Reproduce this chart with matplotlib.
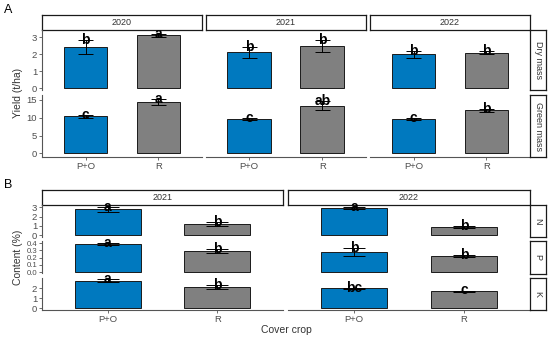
import numpy as np
import matplotlib
matplotlib.use('Agg')
import matplotlib.pyplot as plt

plt.rcParams['font.family'] = ['Liberation Sans', 'DejaVu Sans']

crops = ['P+O', 'R']
bar_colors = ['#0079BF', '#808080']

# panel A: yield
years_a = ['2020', '2021', '2022']
dry_mean = [[2.42, 3.12], [2.12, 2.49], [2.00, 2.10]]
dry_se = [[0.40, 0.08], [0.32, 0.35], [0.22, 0.10]]
dry_letters = [['b', 'a'], ['b', 'b'], ['b', 'b']]
green_mean = [[10.4, 14.4], [9.7, 13.4], [9.7, 12.1]]
green_se = [[0.4, 0.9], [0.3, 1.2], [0.3, 0.4]]
green_letters = [['c', 'a'], ['c', 'ab'], ['c', 'b']]

# panel B: nutrient content
years_b = ['2021', '2022']
n_mean = [[2.80, 1.20], [2.90, 0.86]]
n_se = [[0.25, 0.22], [0.10, 0.10]]
n_letters = [['a', 'b'], ['a', 'b']]
p_mean = [[0.39, 0.29], [0.28, 0.225]]
p_se = [[0.01, 0.03], [0.05, 0.01]]
p_letters = [['a', 'b'], ['b', 'b']]
k_mean = [[2.76, 2.17], [2.00, 1.73]]
k_se = [[0.15, 0.20], [0.05, 0.05]]
k_letters = [['a', 'b'], ['bc', 'c']]

W, H = 550, 341
fig = plt.figure(figsize=(W / 100, H / 100), dpi=100)


def px_axes(x0, y0, x1, y1, **kw):
    return fig.add_axes([x0 / W, 1 - y1 / H, (x1 - x0) / W, (y1 - y0) / H], **kw)


def strip(x0, y0, x1, y1, text, rot=0):
    ax = px_axes(x0, y0, x1, y1)
    ax.set_xticks([])
    ax.set_yticks([])
    for s in ax.spines.values():
        s.set_color('#1a1a1a')
        s.set_linewidth(0.9)
    ax.text(0.5, 0.5, text, ha='center', va='center', rotation=rot,
            fontsize=6.5, color='#333333', transform=ax.transAxes)


def panel(ax, means, ses, letters, ylim, yticks, ylabels, left, bottom, ysize=6.8):
    x = np.arange(1, len(crops) + 1)
    ax.bar(x, means, width=0.6, color=bar_colors, edgecolor='#1a1a1a', linewidth=0.7)
    lo = np.array(means) - np.array(ses)
    hi = np.array(means) + np.array(ses)
    ax.vlines(x, lo, hi, color='black', linewidth=0.7)
    ax.hlines(lo, x - 0.1, x + 0.1, color='black', linewidth=0.7)
    ax.hlines(hi, x - 0.1, x + 0.1, color='black', linewidth=0.7)
    for xi, yi, lab in zip(x, hi, letters):
        ax.text(xi, yi, lab, ha='center', va='center', fontsize=10,
                fontweight='bold', color='black')
    ax.set_xlim(0.4, 2.6)
    ax.set_ylim(*ylim)
    for s in ['top', 'right']:
        ax.spines[s].set_visible(False)
    ax.spines['left'].set_visible(left)
    ax.spines['bottom'].set_visible(bottom)
    for s in ['left', 'bottom']:
        ax.spines[s].set_color('#555555')
        ax.spines[s].set_linewidth(0.8)
    ax.tick_params(colors='#555555', labelcolor='#4d4d4d', labelsize=6.8,
                   length=2, width=0.6, pad=1.5)
    if left:
        ax.set_yticks(yticks)
        ax.set_yticklabels(ylabels, fontsize=ysize)
    else:
        ax.set_yticks([])
    if bottom:
        ax.set_xticks(x)
        ax.set_xticklabels(crops)
    else:
        ax.set_xticks([])


# ---- A ----
cols_a = [(42, 202), (205.5, 366), (370, 530)]
rows_a = [(30, 90), (95, 157)]
row_data_a = [(dry_mean, dry_se, dry_letters, (-0.1, 3.43), [0, 1, 2, 3], ['0', '1', '2', '3'], 6.8),
              (green_mean, green_se, green_letters, (-1.0, 16.4), [0, 5, 10, 15],
               ['0', '5', '10', '15'], 6.8)]
row_names_a = ['Dry mass', 'Green mass']

for j, (cx0, cx1) in enumerate(cols_a):
    strip(cx0, 15, cx1, 30, years_a[j])
    for i, (ry0, ry1) in enumerate(rows_a):
        m, s, l, yl, yt, ytl, ys = row_data_a[i]
        ax = px_axes(cx0, ry0, cx1, ry1)
        ax.patch.set_alpha(0)
        panel(ax, m[j], s[j], l[j], yl, yt, ytl, j == 0, i == len(rows_a) - 1, ys)
for i, (ry0, ry1) in enumerate(rows_a):
    strip(530, ry0, 546, ry1, row_names_a[i], rot=-90)

fig.text(8 / W, 1 - 10 / H, 'A', fontsize=9, ha='center', va='center')
fig.text(18 / W, 1 - 93 / H, 'Yield (t/ha)', rotation=90, fontsize=7.5,
         color='#333333', ha='center', va='center')

# ---- B ----
cols_b = [(42, 283), (288, 530)]
rows_b = [(205, 236.5), (241, 273.5), (278, 310)]
row_data_b = [(n_mean, n_se, n_letters, (-0.13, 3.25), [0, 1, 2, 3], ['0', '1', '2', '3'], 6.8),
              (p_mean, p_se, p_letters, (-0.017, 0.43), [0, 0.1, 0.2, 0.3, 0.4],
               ['0.0', '0.1', '0.2', '0.3', '0.4'], 5.6),
              (k_mean, k_se, k_letters, (-0.17, 3.03), [0, 1, 2], ['0', '1', '2'], 6.8)]
row_names_b = ['N', 'P', 'K']

for j, (cx0, cx1) in enumerate(cols_b):
    strip(cx0, 189.5, cx1, 204.5, years_b[j])
    for i, (ry0, ry1) in enumerate(rows_b):
        m, s, l, yl, yt, ytl, ys = row_data_b[i]
        ax = px_axes(cx0, ry0, cx1, ry1)
        ax.patch.set_alpha(0)
        panel(ax, m[j], s[j], l[j], yl, yt, ytl, j == 0, i == len(rows_b) - 1, ys)
for i, (ry0, ry1) in enumerate(rows_b):
    strip(530, ry0, 546, ry1, row_names_b[i], rot=-90)

fig.text(8 / W, 1 - 185 / H, 'B', fontsize=9, ha='center', va='center')
fig.text(18 / W, 1 - 257 / H, 'Content (%)', rotation=90, fontsize=7.5,
         color='#333333', ha='center', va='center')
fig.text(286 / W, 1 - 330 / H, 'Cover crop', fontsize=7.5, color='#333333',
         ha='center', va='center')

fig.savefig('out.png', dpi=100)
